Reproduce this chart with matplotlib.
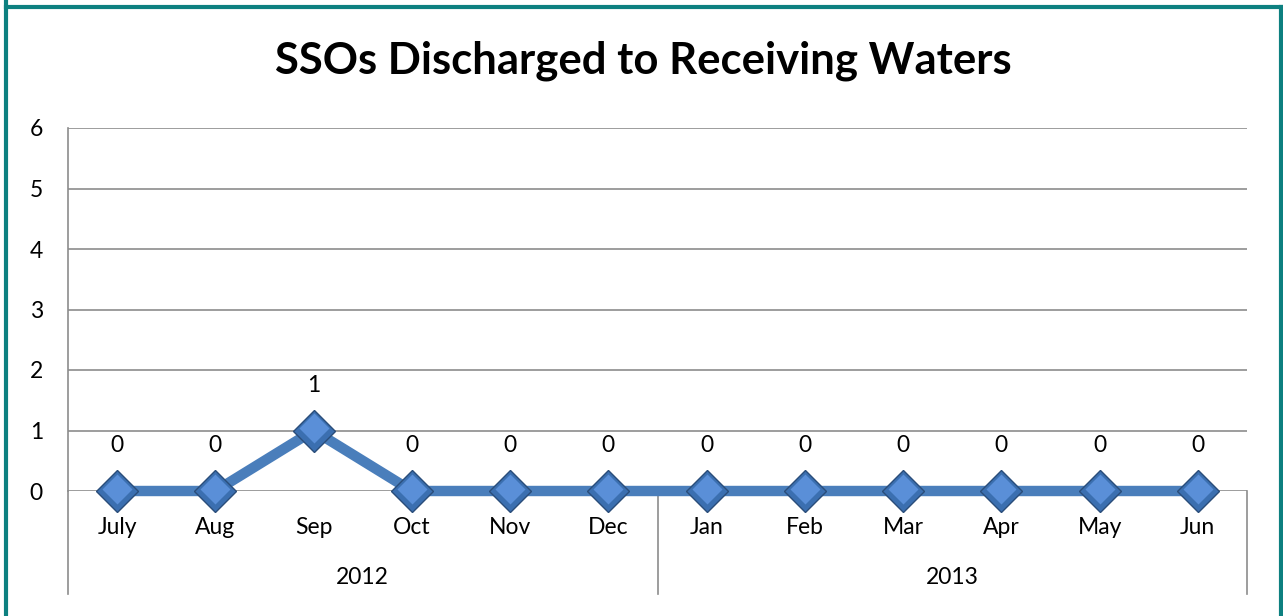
import matplotlib
matplotlib.use("Agg")
import matplotlib.pyplot as plt
from matplotlib.lines import Line2D
from matplotlib.transforms import offset_copy

months = ["July", "Aug", "Sep", "Oct", "Nov", "Dec",
          "Jan", "Feb", "Mar", "Apr", "May", "Jun"]
years = ["2012", "2013"]
months_per_year = [6, 6]
ssos = [0, 0, 1, 0, 0, 0, 0, 0, 0, 0, 0, 0]
y_ticks = [0, 1, 2, 3, 4, 5, 6]

W, H = 1283, 616
DPI = 100
FONT = "Lato"
FS = 16.5

fig = plt.figure(figsize=(W / DPI, H / DPI), dpi=DPI)
fig.patch.set_facecolor("white")

# frame around the chart (no bottom edge)
teal = "#0d8080"
for (x0, y0, x1, y1) in [(6, 0, 6, 616), (6, 7, 1281, 7), (1281, 7, 1281, 616)]:
    fig.add_artist(Line2D([x0 / W, x1 / W], [1 - y0 / H, 1 - y1 / H],
                          color=teal, lw=3.0, transform=fig.transFigure))

left, right, top, bottom = 68, 1247, 128, 491
ax = fig.add_axes([left / W, 1 - bottom / H, (right - left) / W, (bottom - top) / H])
ax.set_xlim(-0.5, len(months) - 0.5)
ax.set_ylim(0, 6)
px = 6 / (bottom - top)  # data units per pixel on the value axis

grid_c = "#8c8c8c"
for s in ["top", "right", "bottom"]:
    ax.spines[s].set_visible(False)
ax.spines["left"].set_color(grid_c)
ax.spines["left"].set_linewidth(1.2)
ax.set_yticks(y_ticks)
ax.set_yticklabels([str(v) for v in y_ticks], fontsize=FS, family=FONT)
ax.tick_params(axis="y", length=0, pad=18)
ax.set_xticks([])
for v in y_ticks:
    ax.axhline(v, color=grid_c, lw=1.2, zorder=1)

x = list(range(len(months)))
ax.plot(x, ssos, color="#4a7ebb", lw=7.5, zorder=3, clip_on=False)
ax.plot(x, ssos, linestyle="none", marker="D", ms=21.5, mfc="#3b6fb0",
        mec="#2a4d7a", mew=1.0, zorder=4, clip_on=False)
# lighter bevel face on each marker
hi = offset_copy(ax.transData, fig=fig, x=0, y=1.5, units="points")
ax.plot(x, ssos, linestyle="none", marker="D", ms=15, mfc="#5a8fd8",
        mec="none", zorder=5, clip_on=False, transform=hi)

for xi, v in zip(x, ssos):
    ax.annotate(str(v), (xi, v), xytext=(0, 32.5), textcoords="offset points",
                ha="center", va="center", fontsize=FS, family=FONT, zorder=6)

# two-level category axis
for xi, m in zip(x, months):
    ax.text(xi, -36 * px, m, ha="center", va="center", fontsize=FS,
            family=FONT, clip_on=False)

start = 0
sep_x = [-0.5]
for yr, n in zip(years, months_per_year):
    ax.text(start + (n - 1) / 2, -86 * px, yr, ha="center", va="center",
            fontsize=FS, family=FONT, clip_on=False)
    start += n
    sep_x.append(start - 0.5)

for sx in sep_x:
    ax.add_line(Line2D([sx, sx], [0, -103 * px], color=grid_c, lw=1.2, clip_on=False))

fig.text(643.5 / W, 1 - 61 / H, "SSOs Discharged to Receiving Waters",
         ha="center", va="center", fontsize=31.4, fontweight="bold", family=FONT)

fig.savefig("out.png", dpi=DPI)
